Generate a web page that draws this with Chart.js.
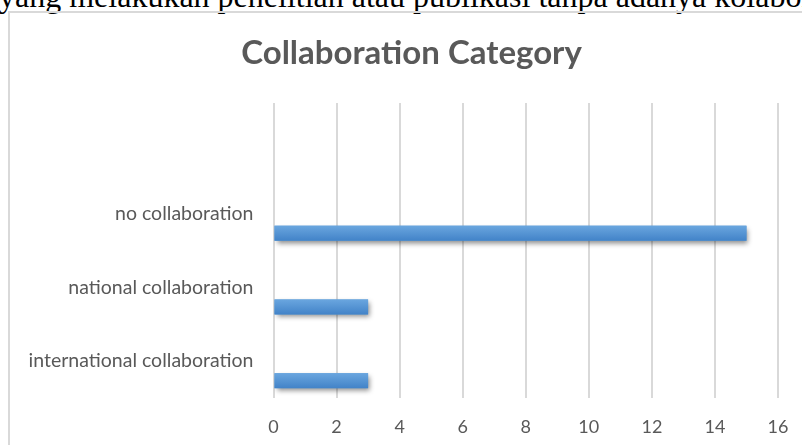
<!DOCTYPE html>
<html>
<head>
<meta charset="utf-8">
<script src="https://cdn.jsdelivr.net/npm/chart.js@4.4.1/dist/chart.umd.min.js"></script>
<style>
  html, body { margin: 0; padding: 0; background: #ffffff; overflow: hidden; }
  #page { position: relative; width: 802px; height: 445px; overflow: hidden; background: #fff; }
  #lead { position: absolute; left: -1px; top: -20px; font-family: "Liberation Serif", "Times New Roman", serif;
          font-size: 32px; line-height: 32px; color: #000; white-space: nowrap; }
  #frame { position: absolute; left: 8px; top: 11px; width: 900px; height: 500px;
           border-left: 2px solid #d9d9d9; border-top: 2px solid #d9d9d9; box-sizing: border-box; }
  #c { position: absolute; left: 0; top: 0; }
</style>
</head>
<body>
<div id="page">
  <div id="lead">yang melakukan penelitian atau publikasi tanpa adanya kolaborasi</div>
  <div id="frame"></div>
  <canvas id="c" width="802" height="445"></canvas>
</div>
<script>
// ---- data ----
const categories = ["", "no collaboration", "national collaboration", "international collaboration"];
const counts = [null, 15, 3, 3];
const emptySeries = [];
const xMin = 0;
const xMax = 16;
const xStep = 2;
const titleText = "Collaboration Category";

const barStyle = {
  id: 'barStyle',
  afterLayout(chart) {
    // centre the title over the chart frame (which starts at the left border)
    if (chart.titleBlock) chart.titleBlock.left = 45;
  },
  beforeDatasetDraw(chart, args) {
    if (args.index !== 1) return;
    const c = chart.ctx;
    c.save();
    c.shadowColor = 'rgba(0,0,0,0.45)';
    c.shadowBlur = 5;
    c.shadowOffsetX = 2;
    c.shadowOffsetY = 3;
  },
  afterDatasetDraw(chart, args) {
    if (args.index !== 1) return;
    chart.ctx.restore();
    const c = chart.ctx;
    const meta = chart.getDatasetMeta(1);
    meta.data.forEach((el, i) => {
      if (counts[i] === null) return;
      const p = el.getProps(['x', 'y', 'base', 'height'], true);
      const top = p.y - p.height / 2;
      const g = c.createLinearGradient(0, top, 0, top + p.height);
      g.addColorStop(0, '#6aa6df');
      g.addColorStop(1, '#4283c8');
      c.save();
      c.fillStyle = g;
      c.fillRect(Math.min(p.base, p.x), top, Math.abs(p.x - p.base), p.height);
      c.restore();
    });
  }
};

new Chart(document.getElementById('c'), {
  type: 'bar',
  data: {
    labels: categories,
    datasets: [
      { label: '', data: emptySeries, backgroundColor: '#a5a5a5' },
      { label: 'Collaboration', data: counts, backgroundColor: '#5b9bd5', borderWidth: 0 }
    ]
  },
  options: {
    indexAxis: 'y',
    responsive: false,
    animation: false,
    categoryPercentage: 1.06,
    barPercentage: 0.384,
    layout: { padding: { left: 20, right: 24, top: 10, bottom: 7 } },
    plugins: {
      legend: { display: false },
      tooltip: { enabled: false },
      title: {
        display: true,
        text: titleText,
        color: '#595959',
        font: { family: 'Lato', size: 33, weight: 'bold', lineHeight: 1.2 },
        padding: { top: 23.2, bottom: 30.2 }
      }
    },
    scales: {
      x: {
        min: xMin, max: xMax,
        afterFit(s) { s.height = 40; s.paddingLeft = 0; s.paddingRight = 0; },
        ticks: { stepSize: xStep, color: '#595959', padding: 18,
                 font: { family: 'Lato', size: 18 } },
        grid: { color: '#d9d9d9', lineWidth: 2, drawTicks: false },
        border: { display: false }
      },
      y: {
        afterFit(s) { s.width = 253.5; s.paddingTop = 0; s.paddingBottom = 0; },
        ticks: { color: '#595959', padding: 20, font: { family: 'Lato', size: 19.5 } },
        grid: { display: false, drawTicks: false },
        border: { display: false }
      }
    }
  },
  plugins: [barStyle]
});
</script>
</body>
</html>
